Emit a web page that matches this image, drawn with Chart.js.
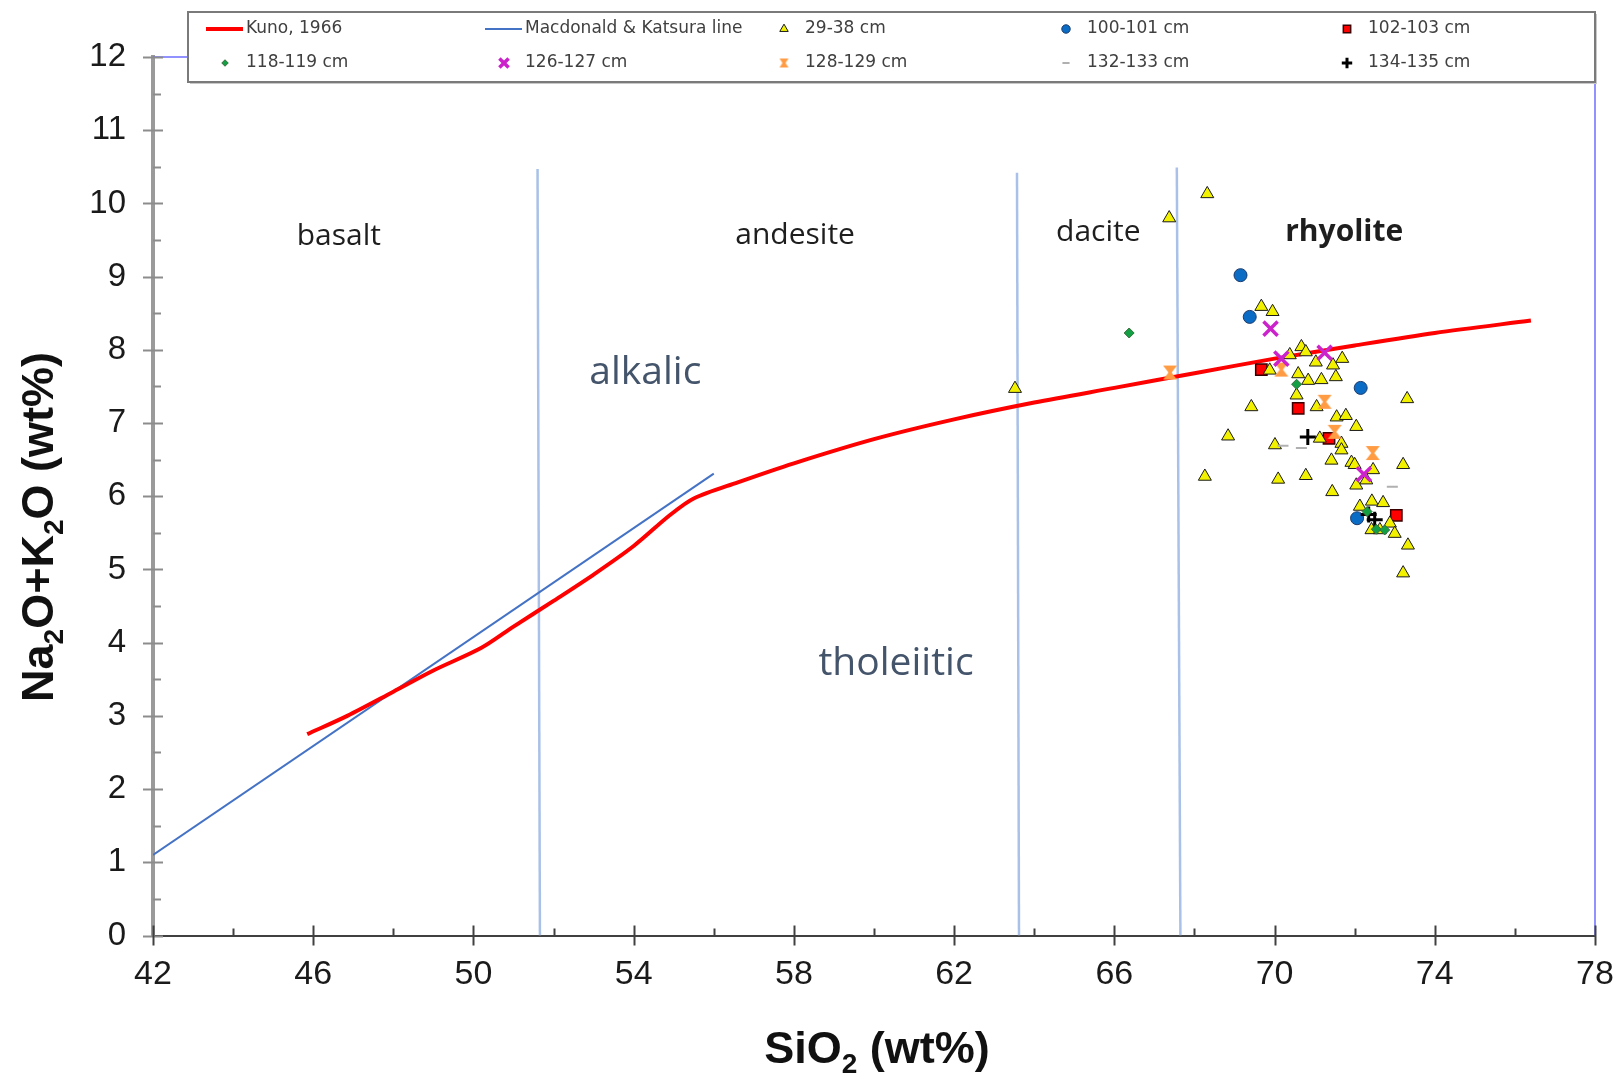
<!DOCTYPE html>
<html>
<head>
<meta charset="utf-8">
<title>TAS diagram</title>
<script src="https://cdn.jsdelivr.net/npm/chart.js@4.4.1/dist/chart.umd.min.js"></script>
<style>
  html, body { margin: 0; padding: 0; background: #fff; }
</style>
</head>
<body>
<canvas id="tas" width="1619" height="1074"></canvas>
<script>
// Kuno (1966) alkalic / tholeiitic boundary
const kunoSiO2 = [45.85, 46.85, 48.0, 49.0, 50.2, 51.0, 52.0, 53.0, 54.0, 54.9, 55.5, 56.6, 58.0, 60.0, 62.0, 64.0, 66.0, 68.0, 70.0, 72.0, 74.0, 76.4];
const kunoAlk  = [2.75, 3.00, 3.33, 3.62, 3.93, 4.22, 4.57, 4.93, 5.32, 5.74, 5.97, 6.19, 6.45, 6.78, 7.05, 7.28, 7.48, 7.68, 7.88, 8.06, 8.23, 8.40];

// Macdonald & Katsura line
const mkSiO2 = [42.0, 56.0];
const mkAlk  = [1.10, 6.31];

// basalt / andesite / dacite / rhyolite boundaries (bottom and top ends)
const boundSiO2Bottom = [51.66, 63.62, 67.65];
const boundSiO2Top    = [51.60, 63.57, 67.56];
const boundTopAlk     = [10.47, 10.42, 10.49];

// samples [SiO2, Na2O+K2O]
const s29_38 = [
  [68.32, 10.13], [67.37, 9.80], [63.52, 7.47], [69.67, 8.59], [69.95, 8.52],
  [70.67, 8.04], [70.78, 7.97], [70.38, 7.93], [71.03, 7.83], [71.46, 7.79],
  [71.69, 7.88], [71.53, 7.63], [70.59, 7.67], [70.84, 7.58], [71.17, 7.59],
  [69.88, 7.72], [70.55, 7.38], [71.05, 7.22], [71.55, 7.08], [71.78, 7.10],
  [72.04, 6.95], [69.42, 7.22], [68.84, 6.82], [70.01, 6.70], [73.31, 7.33],
  [71.13, 6.79], [71.67, 6.72], [71.67, 6.63], [71.42, 6.49], [71.92, 6.46],
  [72.00, 6.43], [72.46, 6.36], [73.21, 6.43], [68.26, 6.27], [70.09, 6.23],
  [70.78, 6.28], [72.29, 6.22], [72.04, 6.15], [71.44, 6.06], [72.13, 5.86],
  [72.43, 5.93], [72.71, 5.91], [72.42, 5.54], [72.63, 5.54], [72.88, 5.63],
  [73.00, 5.49], [73.33, 5.33], [73.21, 4.95]
];
const s100_101 = [[69.15, 9.02], [69.38, 8.45], [72.15, 7.48], [72.06, 5.70]];
const s102_103 = [[69.67, 7.73], [70.59, 7.20], [71.36, 6.79], [73.04, 5.74]];
const s118_119 = [[66.37, 8.23], [70.55, 7.53], [72.31, 5.79], [72.54, 5.55], [72.75, 5.54]];
const s126_127 = [[69.90, 8.29], [70.17, 7.88], [71.25, 7.96], [72.23, 6.30]];
const s128_129 = [[67.39, 7.69], [70.17, 7.73], [71.25, 7.29], [71.50, 6.88], [72.45, 6.59]];
const s132_133 = [[70.21, 6.69], [70.67, 6.66], [72.94, 6.13]];
const s134_135 = [[70.83, 6.81], [72.35, 5.75], [72.50, 5.68]];

// axis ranges and ticks
const xMin = 42, xMax = 78, xMajor = 4, xMinor = 2;
const yMin = 0, yMax = 12, yMajor = 1, yMinor = 0.5;

// field names and where they sit
const fieldNames = ['basalt', 'andesite', 'dacite', 'rhyolite', 'alkalic', 'tholeiitic'];
const fieldSiO2  = [46.64, 58.03, 65.60, 71.74, 54.29, 60.55];
const fieldAlk   = [9.55, 9.56, 9.61, 9.61, 7.69, 3.71];

const toXY = arr => arr.map(p => ({ x: p[0], y: p[1] }));
const zipXY = (xs, ys) => xs.map((x, i) => ({ x: x, y: ys[i] }));

function hourglass(size, color) {
  const c = document.createElement('canvas');
  c.width = size; c.height = size;
  const g = c.getContext('2d');
  g.fillStyle = color;
  g.beginPath();
  g.moveTo(1, 1); g.lineTo(size - 1, 1);
  g.lineTo(size / 2 + 1.5, size / 2);
  g.lineTo(size - 1, size - 1); g.lineTo(1, size - 1);
  g.lineTo(size / 2 - 1.5, size / 2);
  g.closePath();
  g.fill();
  return c;
}

const boundaryColor = '#a9c1e8';
const boundaryDatasets = boundSiO2Bottom.map((x, i) => ({
  label: '',
  data: [{ x: x, y: 0 }, { x: boundSiO2Top[i], y: boundTopAlk[i] }],
  showLine: true, borderColor: boundaryColor, borderWidth: 2.5,
  pointRadius: 0, order: 4, inLegend: false
}));

const datasets = [
  { label: 'Kuno, 1966', data: zipXY(kunoSiO2, kunoAlk), showLine: true,
    borderColor: '#ff0000', borderWidth: 4, tension: 0.3, pointRadius: 0, order: 2, inLegend: true, legendLine: true },
  { label: 'Macdonald & Katsura line', data: zipXY(mkSiO2, mkAlk), showLine: true,
    borderColor: '#4472c4', borderWidth: 2, pointRadius: 0, order: 3, inLegend: true, legendLine: true },
  { label: '29-38 cm', data: toXY(s29_38), pointStyle: 'triangle', pointRadius: 7.5,
    backgroundColor: '#f2f200', borderColor: '#1a1a1a', borderWidth: 1, order: 1, inLegend: true },
  { label: '100-101 cm', data: toXY(s100_101), pointStyle: 'circle', pointRadius: 6.5,
    backgroundColor: '#0a6cc4', borderColor: '#1d3c6e', borderWidth: 1, order: 1, inLegend: true },
  { label: '102-103 cm', data: toXY(s102_103), pointStyle: 'rect', pointRadius: 8,
    backgroundColor: '#ff0000', borderColor: '#3a0000', borderWidth: 1.5, order: 1, inLegend: true },
  { label: '118-119 cm', data: toXY(s118_119), pointStyle: 'rectRot', pointRadius: 5,
    backgroundColor: '#13a045', borderColor: '#3d6b3d', borderWidth: 1, order: 0, inLegend: true },
  { label: '126-127 cm', data: toXY(s126_127), pointStyle: 'crossRot', pointRadius: 10,
    borderColor: '#cc22cc', borderWidth: 3.5, order: 0, inLegend: true },
  { label: '128-129 cm', data: toXY(s128_129), pointStyle: hourglass(16, '#ff9b42'), pointRadius: 8,
    backgroundColor: '#ff9b42', borderColor: '#ff9b42', borderWidth: 0, order: 0, inLegend: true },
  { label: '132-133 cm', data: toXY(s132_133), pointStyle: 'line', pointRadius: 5.5,
    borderColor: '#b0b0b0', borderWidth: 2, order: 0, inLegend: true },
  { label: '134-135 cm', data: toXY(s134_135), pointStyle: 'cross', pointRadius: 8,
    borderColor: '#000000', borderWidth: 3, order: 0, inLegend: true }
].concat(boundaryDatasets);

// ---- plugins ----
const frame = {
  id: 'frame',
  beforeDatasetsDraw(chart) {
    const { ctx, chartArea: a } = chart;
    ctx.save();
    ctx.strokeStyle = '#6e6eff';
    ctx.lineWidth = 1.5;
    ctx.beginPath();
    ctx.moveTo(a.left, a.top); ctx.lineTo(a.right, a.top); ctx.lineTo(a.right, a.bottom);
    ctx.stroke();
    ctx.restore();
  }
};

const axisTicks = {
  id: 'axisTicks',
  afterDraw(chart) {
    const { ctx, scales: { x, y }, chartArea: a } = chart;
    ctx.save();
    // y ticks
    ctx.strokeStyle = '#8c8c8c';
    ctx.lineWidth = 2;
    for (let v = yMin; v <= yMax + 1e-9; v += yMinor) {
      const py = Math.round(y.getPixelForValue(v)) + 0.5;
      const major = Math.abs(v / yMajor - Math.round(v / yMajor)) < 1e-6;
      ctx.beginPath();
      ctx.moveTo(a.left - (major ? 10 : 0), py);
      ctx.lineTo(a.left + (major ? 10 : 8), py);
      ctx.stroke();
    }
    // x ticks
    ctx.strokeStyle = '#404040';
    for (let v = xMin; v <= xMax + 1e-9; v += xMinor) {
      const px = Math.round(x.getPixelForValue(v)) + 0.5;
      const major = Math.abs((v - xMin) / xMajor - Math.round((v - xMin) / xMajor)) < 1e-6;
      ctx.beginPath();
      ctx.moveTo(px, a.bottom - (major ? 10 : 7));
      ctx.lineTo(px, a.bottom + (major ? 10 : 0));
      ctx.stroke();
    }
    ctx.restore();
  }
};

function drawRich(ctx, parts, cx, baseY, size) {
  const mainFont = 'bold ' + size + 'px "Liberation Sans", Arial, sans-serif';
  const subFont = 'bold ' + Math.round(size * 0.62) + 'px "Liberation Sans", Arial, sans-serif';
  let w = 0;
  parts.forEach(p => { ctx.font = p.sub ? subFont : mainFont; w += ctx.measureText(p.t).width; });
  let xx = cx - w / 2;
  ctx.textAlign = 'left';
  ctx.textBaseline = 'alphabetic';
  parts.forEach(p => {
    ctx.font = p.sub ? subFont : mainFont;
    ctx.fillText(p.t, xx, baseY + (p.sub ? size * 0.22 : 0));
    xx += ctx.measureText(p.t).width;
  });
}

const axisTitles = {
  id: 'axisTitles',
  afterDraw(chart) {
    const { ctx } = chart;
    ctx.save();
    ctx.fillStyle = '#111';
    drawRich(ctx, [{ t: 'SiO' }, { t: '2', sub: true }, { t: ' (wt%)' }], 877, 1063, 45);
    ctx.translate(53, 527);
    ctx.rotate(-Math.PI / 2);
    drawRich(ctx, [{ t: 'Na' }, { t: '2', sub: true }, { t: 'O+K' }, { t: '2', sub: true }, { t: 'O (wt%)' }], 0, 0, 45);
    ctx.restore();
  }
};

const fieldText = {
  id: 'fieldText',
  afterDatasetsDraw(chart) {
    const { ctx, scales: { x, y } } = chart;
    ctx.save();
    ctx.textAlign = 'center';
    ctx.textBaseline = 'middle';
    fieldNames.forEach((name, i) => {
      const big = name === 'alkalic' || name === 'tholeiitic';
      ctx.font = (name === 'rhyolite' ? 'bold ' : '') + (big ? 39 : 30) + 'px "Open Sans", sans-serif';
      ctx.fillStyle = big ? '#44546a' : '#1e1e1e';
      ctx.fillText(name, x.getPixelForValue(fieldSiO2[i]), y.getPixelForValue(fieldAlk[i]));
    });
    ctx.restore();
  }
};

const boxLegend = {
  id: 'boxLegend',
  afterDraw(chart) {
    const { ctx } = chart;
    const left = 188, top = 12, right = 1595, bottom = 82;
    const textX = [246, 525, 805, 1087, 1368];
    const rowY = [29, 63];
    ctx.save();
    ctx.fillStyle = '#c8c8c8';
    ctx.fillRect(left + 2, top + 2, right - left, bottom - top);
    ctx.fillStyle = '#ffffff';
    ctx.fillRect(left, top, right - left, bottom - top);
    ctx.strokeStyle = '#7a7a7a';
    ctx.lineWidth = 2;
    ctx.strokeRect(left, top, right - left, bottom - top);
    const items = chart.data.datasets.filter(d => d.inLegend);
    items.forEach((d, i) => {
      const col = i % 5, row = Math.floor(i / 5);
      const tx = textX[col], ty = rowY[row];
      if (d.legendLine) {
        ctx.strokeStyle = d.borderColor;
        ctx.lineWidth = d.borderWidth;
        ctx.beginPath();
        ctx.moveTo(tx - 40, ty); ctx.lineTo(tx - 3, ty);
        ctx.stroke();
      } else if (Chart.helpers && Chart.helpers.drawPoint) {
        ctx.fillStyle = d.backgroundColor || 'rgba(0,0,0,0)';
        ctx.strokeStyle = d.borderColor;
        ctx.lineWidth = d.borderWidth;
        const style = typeof d.pointStyle === 'string' ? d.pointStyle : hourglass(11, '#ff9b42');
        Chart.helpers.drawPoint(ctx, { pointStyle: style, rotation: 0, radius: d.pointRadius * 0.65, borderWidth: d.borderWidth * 0.8 }, tx - 21, ty);
      }
      ctx.fillStyle = '#404040';
      ctx.font = '17px "DejaVu Sans", Verdana, sans-serif';
      ctx.textAlign = 'left';
      ctx.textBaseline = 'middle';
      ctx.fillText(d.label, tx, ty);
    });
    ctx.restore();
  }
};

new Chart(document.getElementById('tas'), {
  type: 'scatter',
  data: { datasets: datasets },
  options: {
    responsive: false,
    animation: false,
    devicePixelRatio: 1,
    layout: { padding: { top: 57, right: 24, left: 0, bottom: 0 } },
    plugins: { legend: { display: false }, tooltip: { enabled: false } },
    scales: {
      x: {
        type: 'linear', min: xMin, max: xMax,
        ticks: { stepSize: xMajor, color: '#1a1a1a', padding: 19,
          font: { family: '"Liberation Sans", Arial, sans-serif', size: 34 } },
        grid: { display: true, drawOnChartArea: false, drawTicks: false },
        border: { color: '#404040', width: 2 },
        afterFit(scale) { scale.height = 138.5; scale.paddingLeft = 0; scale.paddingRight = 0; }
      },
      y: {
        type: 'linear', min: yMin, max: yMax,
        ticks: { stepSize: yMajor, color: '#1a1a1a', padding: 27,
          font: { family: '"Liberation Sans", Arial, sans-serif', size: 33 } },
        grid: { display: true, drawOnChartArea: false, drawTicks: false },
        border: { color: '#9a9a9a', width: 4 },
        afterFit(scale) { scale.width = 153; scale.paddingTop = 0; scale.paddingBottom = 0; }
      }
    }
  },
  plugins: [frame, fieldText, axisTicks, axisTitles, boxLegend]
});
</script>
</body>
</html>
